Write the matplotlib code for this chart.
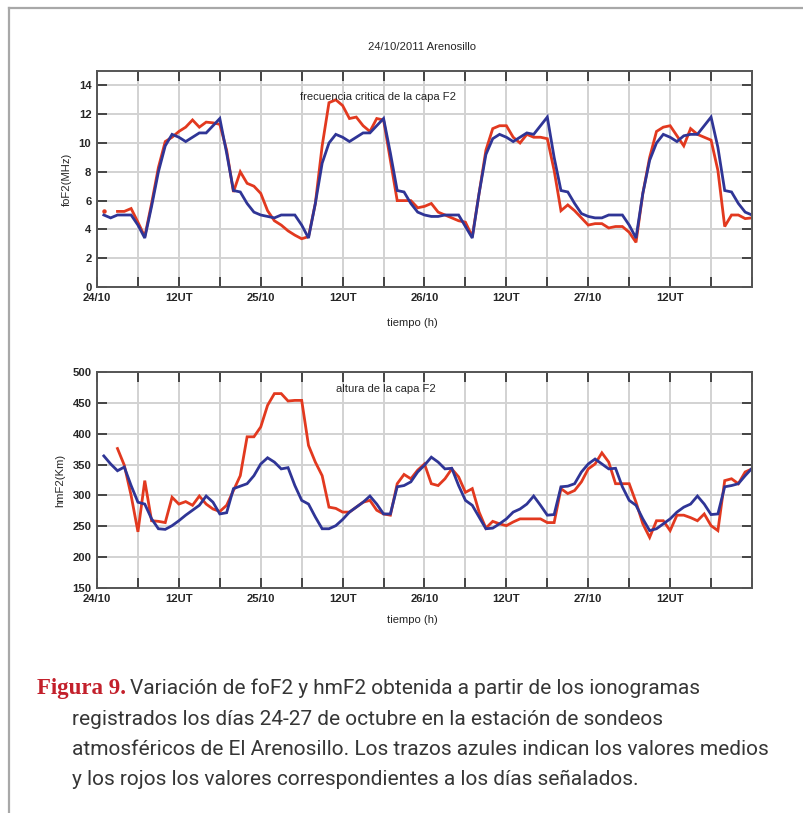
import numpy as np
import matplotlib
matplotlib.use("Agg")
import matplotlib.pyplot as plt
from matplotlib import font_manager

# ---------------- data ----------------
hours = list(range(1, 97))

fof2_mean = [5.0, 4.8, 5.0, 5.0, 5.0, 4.3, 3.4, 5.6, 8.0, 9.8, 10.6, 10.4,
             10.1, 10.4, 10.7, 10.7, 11.2, 11.7, 9.3, 6.7, 6.6, 5.8, 5.2, 5.0,
             4.9, 4.8, 5.0, 5.0, 5.0, 4.3, 3.4, 5.8, 8.6, 10.0, 10.6, 10.4,
             10.1, 10.4, 10.7, 10.7, 11.2, 11.7, 9.3, 6.7, 6.6, 5.8, 5.2, 5.0,
             4.9, 4.9, 5.0, 5.0, 5.0, 4.2, 3.4, 6.5, 9.2, 10.3, 10.6, 10.4,
             10.1, 10.4, 10.7, 10.6, 11.2, 11.8, 9.0, 6.7, 6.6, 5.8, 5.1, 4.9,
             4.8, 4.8, 5.0, 5.0, 5.0, 4.3, 3.4, 6.5, 8.8, 10.0, 10.6, 10.4,
             10.1, 10.5, 10.6, 10.6, 11.2, 11.8, 9.7, 6.7, 6.6, 5.8, 5.2, 5.0]

fof2_obs = [5.3, np.nan, 5.25, 5.25, 5.45, 4.5, 3.5, 5.8, 8.3, 10.1, 10.4, 10.8,
            11.1, 11.6, 11.1, 11.45, 11.4, 11.3, 9.5, 6.6, 8.0, 7.2, 7.0, 6.5,
            5.3, 4.6, 4.3, 3.9, 3.6, 3.35, 3.5, 5.8, 9.8, 12.8, 13.0, 12.6,
            11.7, 11.8, 11.2, 10.8, 11.7, 11.6, 8.8, 6.0, 6.0, 6.0, 5.5, 5.6,
            5.8, 5.2, 5.0, 4.8, 4.6, 4.5, 3.5, 6.5, 9.5, 11.0, 11.2, 11.2,
            10.4, 10.0, 10.6, 10.4, 10.4, 10.3, 8.1, 5.3, 5.7, 5.3, 4.8, 4.3,
            4.4, 4.4, 4.1, 4.2, 4.2, 3.8, 3.1, 6.5, 9.0, 10.8, 11.1, 11.2,
            10.5, 9.8, 11.0, 10.6, 10.4, 10.2, 8.1, 4.2, 5.0, 5.0, 4.75, 4.8]

hmf2_mean = [364, 351, 340, 346, 316, 289, 286, 262, 246, 245, 251, 259,
             268, 276, 284, 299, 289, 270, 272, 311, 315, 319, 332, 351,
             361, 354, 343, 345, 316, 292, 286, 265, 246, 246, 251, 261,
             273, 281, 289, 299, 286, 270, 270, 314, 316, 322, 338, 349,
             362, 354, 343, 344, 316, 292, 284, 265, 246, 247, 254, 262,
             273, 278, 286, 299, 284, 268, 269, 314, 315, 319, 338, 351,
             359, 351, 343, 344, 314, 292, 284, 262, 243, 246, 254, 262,
             273, 281, 286, 299, 286, 269, 270, 314, 316, 319, 332, 344]

hmf2_obs = [np.nan, np.nan, 376, 349, 300, 241, 324, 259, 258, 256, 297, 286,
            290, 284, 299, 286, 278, 274, 284, 308, 332, 395, 395, 411,
            446, 465, 465, 453, 454, 454, 381, 354, 332, 281, 279, 273,
            273, 281, 289, 292, 276, 270, 268, 319, 334, 327, 341, 351,
            319, 316, 327, 343, 330, 305, 311, 273, 247, 258, 254, 251,
            257, 262, 262, 262, 262, 256, 256, 311, 303, 308, 322, 343,
            351, 369, 354, 319, 319, 319, 289, 254, 232, 259, 259, 243,
            268, 268, 264, 259, 270, 251, 243, 324, 327, 319, 338, 343]

xtick_pos = list(range(0, 97, 6))
xtick_labels = ["24/10", "", "12UT", "", "25/10", "", "12UT", "",
                "26/10", "", "12UT", "", "27/10", "", "12UT", "", ""]
fof2_ticks = list(range(0, 15, 2))
hmf2_ticks = list(range(150, 501, 50))

# ---------------- figure ----------------
W, H = 804, 813
fig = plt.figure(figsize=(W / 100, H / 100), dpi=100)
fig.patch.set_facecolor("white")

def fx(x):
    return x / W

def fy(y):
    return 1 - y / H

RED = "#e2391f"
BLUE = "#2f3596"
TXT = "#262626"
tick_font = "Liberation Sans"
FS = 8.1

def style_axes(ax, ylim, yticks, ylabel, inner_text, inner_xy):
    ax.set_xlim(0, 96)
    ax.set_ylim(*ylim)
    ax.set_xticks(xtick_pos)
    ax.set_xticklabels(xtick_labels, fontsize=FS, family=tick_font,
                       color=TXT, weight="bold")
    ax.set_yticks(yticks)
    ax.set_yticklabels([str(v) for v in yticks], fontsize=FS,
                       family=tick_font, color=TXT, weight="bold")
    ax.grid(True, color="#d2d2d2", lw=1.4)
    ax.set_axisbelow(True)
    ax.tick_params(direction="in", top=True, right=True, length=7,
                   width=1.4, color="#444444", pad=4)
    for s in ax.spines.values():
        s.set_color("#555555")
        s.set_linewidth(1.4)
    ax.set_ylabel(ylabel, fontsize=FS, family=tick_font, color=TXT, labelpad=5)
    ax.text(inner_xy[0], inner_xy[1], inner_text, transform=fig.transFigure,
            fontsize=FS, family=tick_font, color=TXT, va="center", ha="left")

def draw_series(ax, x, y, color):
    y = np.asarray(y, dtype=float)
    ax.plot(x, y, color=color, lw=2.0, solid_joinstyle="miter")
    fin = np.isfinite(y)
    prev = np.r_[False, fin[:-1]]
    nxt = np.r_[fin[1:], False]
    iso = fin & ~prev & ~nxt
    if iso.any():
        ax.plot(np.asarray(x)[iso], y[iso], ls="none", marker="o",
                ms=2.2, color=color)

# top axes
ax1 = fig.add_axes([fx(97), fy(287), fx(752) - fx(97), fy(71) - fy(287)])
draw_series(ax1, hours, fof2_obs, RED)
draw_series(ax1, hours, fof2_mean, BLUE)
style_axes(ax1, (0, 15), fof2_ticks, "foF2(MHz)",
           "frecuencia critica de la capa F2", (fx(300), fy(97)))
fig.text(fx(422), fy(47), "24/10/2011 Arenosillo", fontsize=FS,
         family=tick_font, color=TXT, ha="center", va="center")
fig.text(fx(412), fy(323), "tiempo (h)", fontsize=FS, family=tick_font,
         color=TXT, ha="center", va="center")

# bottom axes
ax2 = fig.add_axes([fx(97), fy(588), fx(752) - fx(97), fy(372) - fy(588)])
draw_series(ax2, hours, hmf2_obs, RED)
draw_series(ax2, hours, hmf2_mean, BLUE)
style_axes(ax2, (150, 500), hmf2_ticks, "hmF2(Km)",
           "altura de la capa F2", (fx(336), fy(389)))
fig.text(fx(412), fy(620), "tiempo (h)", fontsize=FS, family=tick_font,
         color=TXT, ha="center", va="center")

# frame lines
fig.add_artist(plt.Line2D([fx(9), 1.0], [fy(8), fy(8)], color="#a8a8a8", lw=1.6))
fig.add_artist(plt.Line2D([fx(9), fx(9)], [fy(8), 0.0], color="#a8a8a8", lw=1.6))

# caption
names = {f.name for f in font_manager.fontManager.ttflist}
if "Liberation Sans Narrow" in names:
    cap_font, cap_size = "Liberation Sans Narrow", 16
else:
    cap_font, cap_size = "Roboto", 15
CAP = "#363636"
fig.text(fx(37), fy(694), "Figura 9.", fontsize=16.5, family="Liberation Serif",
         weight="bold", color="#c3202b", va="baseline", ha="left")
cap_lines = [
    (130, 694, "Variación de foF2 y hmF2 obtenida a partir de los ionogramas"),
    (72, 725, "registrados los días 24-27 de octubre en la estación de sondeos"),
    (72, 755, "atmosféricos de El Arenosillo. Los trazos azules indican los valores medios"),
    (72, 785, "y los rojos los valores correspondientes a los días señalados."),
]
for x, y, s in cap_lines:
    fig.text(fx(x), fy(y), s, fontsize=cap_size, family=cap_font, color=CAP,
             va="baseline", ha="left")

fig.savefig("out.png", dpi=100, facecolor="white")
